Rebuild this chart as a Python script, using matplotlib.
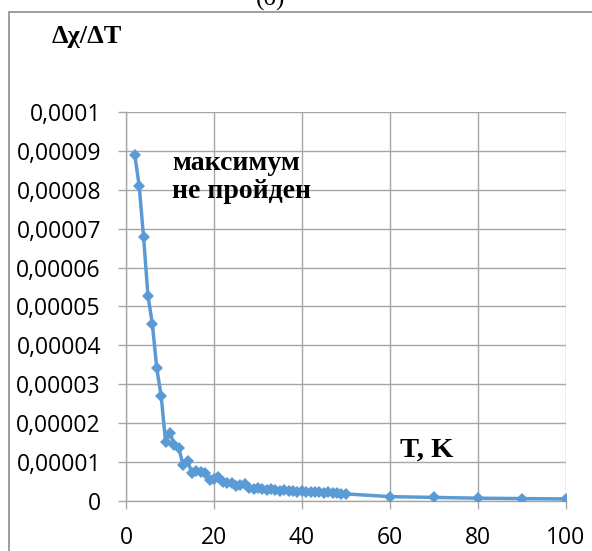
import numpy as np
import matplotlib.pyplot as plt
from matplotlib.patches import Rectangle

# температура, K
T = [2, 3, 4, 5, 6, 7, 8, 9, 10, 11, 12, 13, 14, 15, 16, 17, 18, 19, 20,
     21, 22, 23, 24, 25, 26, 27, 28, 29, 30, 31, 32, 33, 34, 35, 36, 37, 38,
     39, 40, 41, 42, 43, 44, 45, 46, 47, 48, 49, 50, 60, 70, 80, 90, 100]
# dχ/dT, единицы 1e-6
dchi = [88.9, 81.0, 67.8, 52.8, 45.5, 34.1, 27.1, 15.3, 17.6, 14.5, 13.8,
        9.2, 10.3, 7.3, 7.9, 7.5, 7.2, 5.4, 5.6, 6.2, 4.9, 4.6, 4.8, 3.8,
        4.1, 4.5, 3.5, 3.1, 3.5, 3.2, 3.0, 3.2, 2.8, 2.6, 2.8, 2.6, 2.7,
        2.5, 2.6, 2.4, 2.5, 2.3, 2.4, 2.2, 2.3, 2.1, 2.2, 1.9, 1.9,
        1.2, 1.0, 0.8, 0.7, 0.6]

xticks = [0, 20, 40, 60, 80, 100]
yticks = [0, 1e-5, 2e-5, 3e-5, 4e-5, 5e-5, 6e-5, 7e-5, 8e-5, 9e-5, 1e-4]
ytick_labels = ["0", "0,00001", "0,00002", "0,00003", "0,00004", "0,00005",
                "0,00006", "0,00007", "0,00008", "0,00009", "0,0001"]

serif = ['Liberation Serif', 'DejaVu Serif']
grid_c = '#a6a6a6'

fig = plt.figure(figsize=(5.92, 5.51), dpi=100)
ax = fig.add_axes([0.2128, 0.0902, 0.7428, 0.7071])

y = np.array(dchi) * 1e-6
ax.plot(T, y, color='#5b9bd5', lw=2.5, marker='D', ms=6.2,
        markeredgewidth=0, zorder=3)

ax.set_xlim(0, 100)
ax.set_ylim(0, 1e-4)
ax.set_xticks(xticks)
ax.set_yticks(yticks)
ax.set_yticklabels(ytick_labels)
ax.grid(True, color=grid_c, lw=1)
ax.set_axisbelow(True)
for s in ['top', 'right']:
    ax.spines[s].set_visible(False)
for s in ['left', 'bottom']:
    ax.spines[s].set_color(grid_c)
    ax.spines[s].set_linewidth(1)
ax.tick_params(direction='out', length=6, width=1, color=grid_c,
               labelsize=16.5, pad=12)
for lab in ax.get_xticklabels() + ax.get_yticklabels():
    lab.set_family(['Open Sans', 'DejaVu Sans'])

ax.text(10.5, 8.3e-5, "максимум\nне пройден", family=serif, fontsize=20,
        fontweight='bold', linespacing=1.15, va='center')
ax.text(62.3, 1.3e-5, "T, K", family=serif, fontsize=20.5,
        fontweight='bold', va='center')

fig.text(52 / 592, 1 - 37 / 551, "Δχ/ΔT", family=serif, fontsize=19,
         fontweight='bold', va='center')
fig.text(271 / 592, 1 - 10 / 551, "(б)", family=serif, fontsize=18,
         ha='center', va='bottom')

fig.patches.append(Rectangle((9 / 592, -0.05), 1.2, 1 - 12 / 551 + 0.05,
                             transform=fig.transFigure, fill=False,
                             ec='#8c8c8c', lw=1.2))

fig.savefig('out.png', dpi=100)
